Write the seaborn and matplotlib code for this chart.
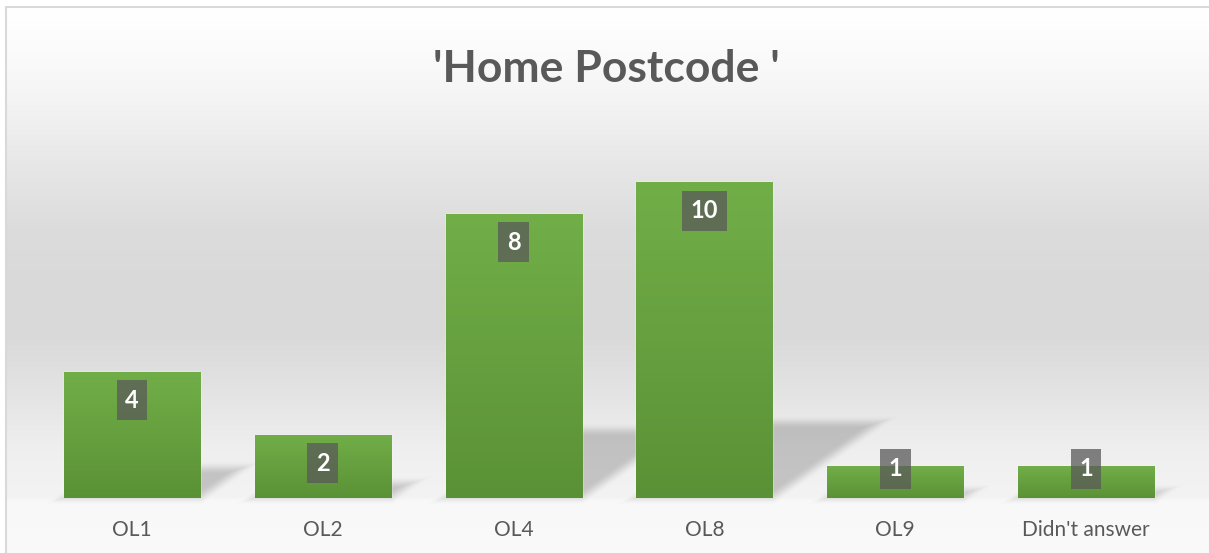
import numpy as np
import matplotlib
matplotlib.use("Agg")
import matplotlib.pyplot as plt
import seaborn as sns
from matplotlib.colors import LinearSegmentedColormap
from matplotlib.lines import Line2D

# ---- data (bar heights as drawn in the reference; label texts as printed) ----
categories = ["OL1", "OL2", "OL4", "OL8", "OL9", "Didn't answer"]
bar_heights = [4, 2, 9, 10, 1, 1]
label_texts = ["4", "2", "8", "10", "1", "1"]
title_text = "'Home Postcode '"

# ---- figure setup ----
W, H = 1209, 553
DPI = 100
sns.set_theme(style="white")
plt.rcParams['font.family'] = ['Lato', 'DejaVu Sans']

fig = plt.figure(figsize=(W / DPI, H / DPI), dpi=DPI)
fig.patch.set_facecolor("white")
bg_ax = fig.add_axes([0, 0, 1, 1], zorder=0)
bg_ax.set_axis_off()

ax = fig.add_axes([36.6 / W, 1 - 498 / H, (1181.4 - 36.6) / W, (498 - 118.8) / H], zorder=1)
ax.patch.set_alpha(0)

sns.barplot(x=categories, y=bar_heights, color="#70AD47", width=0.713, saturation=1, ax=ax)
ax.set_xlim(-0.5, len(categories) - 0.5)
ax.set_ylim(0, 12)
for s in ax.spines.values():
    s.set_visible(False)
ax.set_yticks([])
ax.set_xlabel("")
ax.set_ylabel("")
ax.tick_params(axis="x", length=0, pad=16, labelsize=15, labelcolor="#595959")

# ---- bar gradients ----
bar_cmap = LinearSegmentedColormap.from_list("g", ["#5A9136", "#66A03F", "#71AE48"])
grad = np.linspace(0, 1, 256).reshape(-1, 1)
patches = list(ax.patches)
for p in patches:
    x0, w, h = p.get_x(), p.get_width(), p.get_height()
    im = ax.imshow(grad, extent=(x0, x0 + w, 0, h), origin="lower", cmap=bar_cmap,
                   aspect="auto", zorder=p.get_zorder() + 0.5, interpolation="bilinear")
    im.set_clip_path(p)
ax.set_xlim(-0.5, len(categories) - 0.5)
ax.set_ylim(0, 12)

fig.canvas.draw()

# ---- background gradient + perspective shadows ----
yy, xx = np.mgrid[0:H, 0:W] + 0.5
ytop = H - yy
stops_y = [0, 10, 60, 100, 170, 230, 290, 340, 400, 450, 497, 501, 553]
stops_v = [255, 255, 250, 244, 230, 220, 217, 218, 229, 239, 243, 248, 250]
grey = np.interp(ytop, stops_y, stops_v) / 255.0

shade = np.zeros_like(grey)
blur = 14.0
for p in patches:
    (px0, py0), (px1, py1) = ax.transData.transform(
        [[p.get_x(), p.get_y()], [p.get_x() + p.get_width(), p.get_y() + p.get_height()]])
    hp = py1 - py0
    dx, dy = 0.34 * hp, 0.24 * hp
    L = np.hypot(dx, dy)
    d_bottom = yy - py0
    d_top = (py0 + dy) - yy
    d_right = (dx * (yy - py0) - dy * (xx - px1)) / L
    d_left = -(dx * (yy - py0) - dy * (xx - px0)) / L
    d = np.minimum(np.minimum(d_bottom, d_top), np.minimum(d_left, d_right))
    t = np.clip(d / blur + 0.5, 0, 1)
    a = t * t * (3 - 2 * t)
    shade = np.maximum(shade, a)

val = grey * (1 - 0.19 * shade)
inside = (xx >= 6) & (ytop >= 7)
val = np.where(inside, val, 1.0)
img = np.dstack([val, val, val])
bg_ax.imshow(img, origin="lower", extent=(0, W, 0, H), aspect="auto", interpolation="bilinear")
bg_ax.set_xlim(0, W)
bg_ax.set_ylim(0, H)

# chart border
fig.add_artist(Line2D([6 / W, 6 / W], [0, 1 - 7 / H], transform=fig.transFigure, color="#d9d9d9", lw=1.5))
fig.add_artist(Line2D([6 / W, 1], [1 - 7 / H, 1 - 7 / H], transform=fig.transFigure, color="#d9d9d9", lw=1.5))

# ---- data labels ----
for p, txt in zip(patches, label_texts):
    (_, by0), (_, by1) = ax.transData.transform([[0, 0], [0, p.get_height()]])
    hp = by1 - by0
    above = max(hp - 28.5, 29.5)
    ax.annotate(txt, xy=(p.get_x() + p.get_width() / 2, 0), xytext=(0, above * 72 / DPI),
                textcoords="offset points", ha="center", va="center", color="white",
                fontsize=17, fontweight="bold", zorder=6,
                bbox=dict(boxstyle="square,pad=0.36", fc="#595959", ec="none", alpha=0.75))

# ---- title ----
fig.text(606 / W, 1 - 82 / H, title_text, ha="center", va="baseline", fontsize=32,
         fontweight="bold", color="#595959")

fig.savefig("out.png", dpi=DPI)
